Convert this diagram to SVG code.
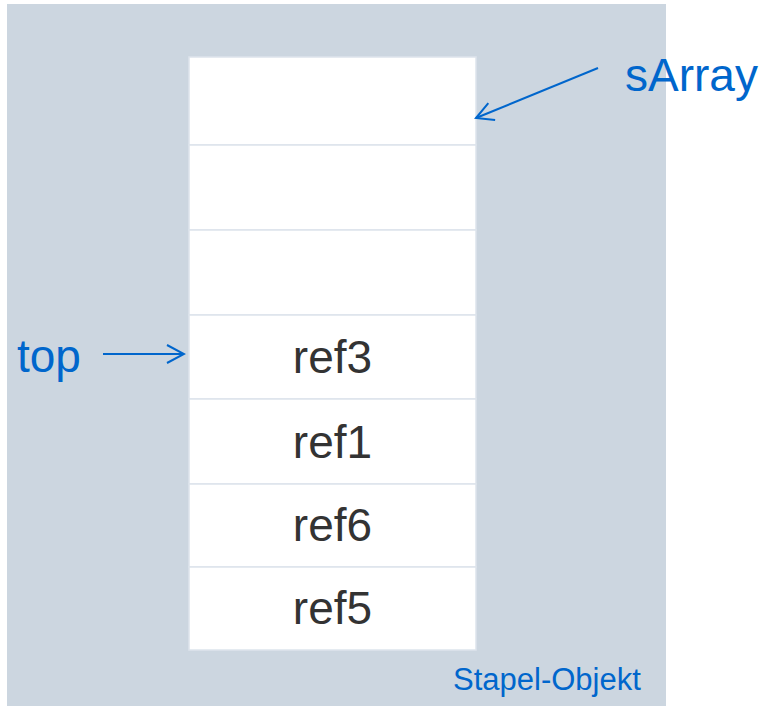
<svg xmlns="http://www.w3.org/2000/svg" width="765" height="706" viewBox="0 0 765 706">
<style>
.bg{fill:#ccd6e0}
.cell{fill:#ffffff;stroke:#dde4ec;stroke-width:1.5}
.ref{font-family:"Liberation Sans",Arial,sans-serif;font-size:46px;fill:#333333;text-anchor:middle}
.lbl{font-family:"Liberation Sans",Arial,sans-serif;fill:#0066cc}
.conn{stroke:#0066cc;stroke-width:2;fill:none}
</style>
<defs>
<marker id="open" viewBox="0 0 20 20" refX="18" refY="10" markerWidth="20" markerHeight="20" markerUnits="userSpaceOnUse" orient="auto">
<path d="M1,1 L18,10 L1,19" fill="none" stroke="#0066cc" stroke-width="2"/>
</marker>
</defs>
<rect class="bg" x="7" y="4" width="659" height="702"/>
<g id="stack">
<g id="cell0"><rect class="cell" x="189" y="57" width="287" height="88"/></g>
<g id="cell1"><rect class="cell" x="189" y="145" width="287" height="85"/></g>
<g id="cell2"><rect class="cell" x="189" y="230" width="287" height="85"/></g>
<g id="cell3"><rect class="cell" x="189" y="315" width="287" height="84"/><text class="ref" x="332.5" y="373">ref3</text></g>
<g id="cell4"><rect class="cell" x="189" y="399" width="287" height="85"/><text class="ref" x="332.5" y="458">ref1</text></g>
<g id="cell5"><rect class="cell" x="189" y="484" width="287" height="83"/><text class="ref" x="332.5" y="541">ref6</text></g>
<g id="cell6"><rect class="cell" x="189" y="567" width="287" height="83"/><text class="ref" x="332.5" y="624">ref5</text></g>
</g>
<g id="sArray"><text class="lbl" x="625" y="91" font-size="46">sArray</text></g>
<g id="top"><text class="lbl" x="17" y="372" font-size="46">top</text></g>
<g id="stapel"><text class="lbl" x="453" y="690" font-size="31">Stapel-Objekt</text></g>
<g id="connectors">
<line class="conn" x1="598" y1="68" x2="476" y2="118" marker-end="url(#open)"/>
<line class="conn" x1="103" y1="354" x2="184" y2="354" marker-end="url(#open)"/>
</g>
</svg>
